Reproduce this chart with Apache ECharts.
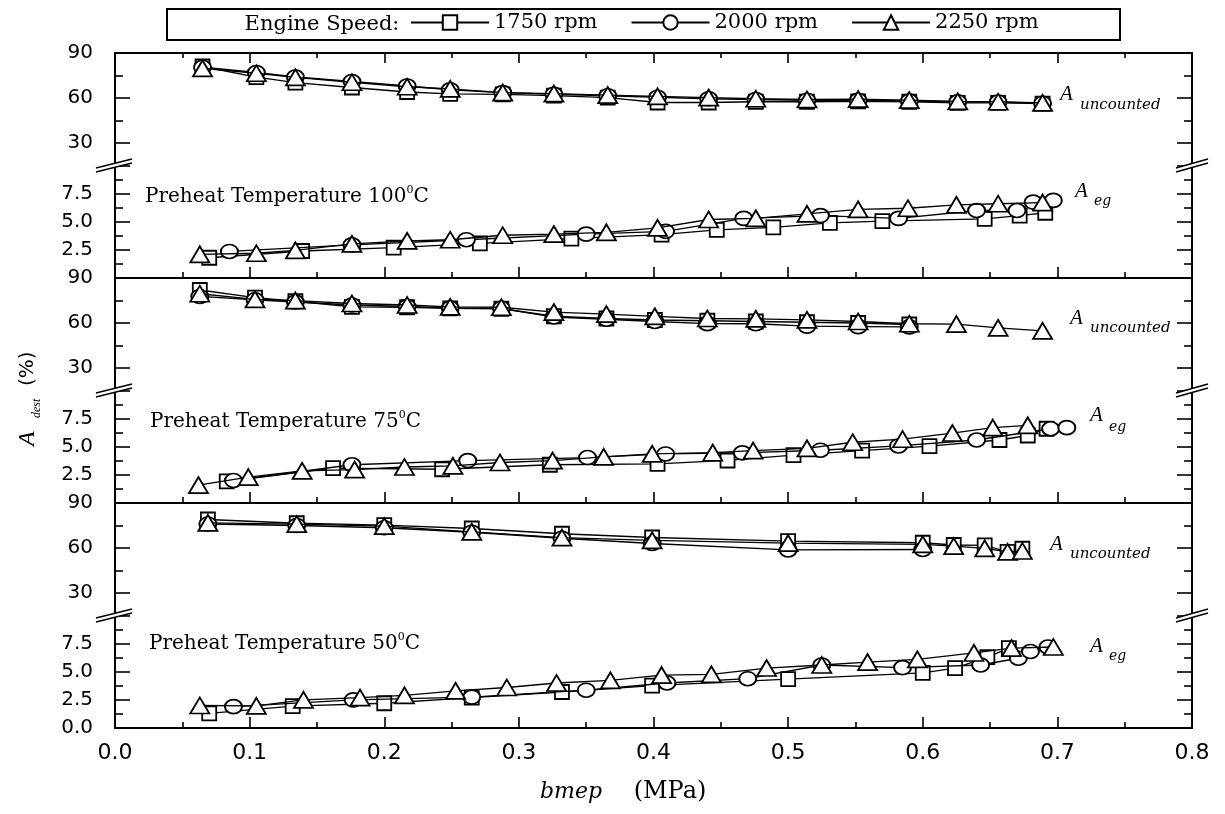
<!DOCTYPE html>
<html><head><meta charset="utf-8">
<script src="https://cdn.jsdelivr.net/npm/echarts@6/dist/echarts.min.js"></script>
<style>html,body{margin:0;padding:0;background:#fff}#c{width:1225px;height:814px}</style>
</head><body><div id="c"></div>
<script>
// ---------------- data ----------------
const speeds = ['1750 rpm', '2000 rpm', '2250 rpm'];
const preheatTemps = ['100', '75', '50'];
const upperTickLabels = [30, 60, 90];
const upperMinorTicks = [45, 75];

// Preheat 100 C
const unc100_1750 = [[0.065,81.0],[0.105,73.9],[0.134,70.3],[0.176,67.0],[0.217,64.0],[0.249,62.8],[0.288,62.4],[0.326,61.6],[0.366,60.2],[0.403,57.0],[0.441,57.0],[0.476,57.5],[0.514,57.5],[0.552,57.8],[0.590,57.5],[0.626,56.8],[0.656,56.8],[0.689,56.3]];
const unc100_2000 = [[0.065,80.5],[0.105,77.0],[0.134,74.0],[0.176,71.0],[0.217,68.0],[0.249,65.5],[0.288,63.6],[0.326,62.5],[0.366,61.5],[0.403,60.5],[0.441,59.5],[0.476,59.0],[0.514,58.5],[0.552,58.5],[0.590,58.0],[0.626,57.5],[0.656,57.3],[0.689,56.5]];
const unc100_2250 = [[0.065,79.7],[0.105,76.5],[0.134,73.7],[0.176,70.5],[0.217,67.5],[0.249,66.1],[0.288,63.6],[0.326,62.9],[0.366,61.9],[0.403,61.1],[0.441,60.2],[0.476,59.5],[0.514,59.0],[0.552,59.3],[0.590,58.6],[0.626,57.7],[0.656,57.5],[0.689,56.7]];
const eg100_1750 = [[0.070,1.8],[0.139,2.4],[0.207,2.7],[0.271,3.08],[0.339,3.5],[0.406,3.85],[0.447,4.27],[0.489,4.5],[0.531,4.9],[0.570,5.05],[0.646,5.26],[0.672,5.55],[0.691,5.8]];
const eg100_2000 = [[0.085,2.36],[0.176,2.95],[0.261,3.4],[0.350,3.9],[0.409,4.15],[0.467,5.3],[0.524,5.55],[0.582,5.3],[0.640,6.0],[0.670,6.0],[0.682,6.75],[0.697,6.9]];
const eg100_2250 = [[0.063,2.1],[0.105,2.2],[0.134,2.46],[0.176,3.03],[0.217,3.3],[0.249,3.4],[0.288,3.8],[0.326,3.9],[0.365,4.05],[0.403,4.46],[0.441,5.2],[0.476,5.3],[0.514,5.7],[0.552,6.1],[0.589,6.2],[0.625,6.5],[0.656,6.6],[0.689,6.7]];

// Preheat 75 C
const unc75_1750 = [[0.063,82.0],[0.104,76.9],[0.134,74.5],[0.176,70.7],[0.217,70.5],[0.249,69.8],[0.287,69.5],[0.326,64.5],[0.365,63.0],[0.401,62.0],[0.440,61.5],[0.476,61.0],[0.514,60.5],[0.552,60.0],[0.590,59.0]];
const unc75_2000 = [[0.063,77.7],[0.104,75.5],[0.134,74.0],[0.176,72.0],[0.217,71.0],[0.249,70.0],[0.287,69.8],[0.326,64.0],[0.365,62.5],[0.401,61.0],[0.440,59.6],[0.476,59.5],[0.514,57.9],[0.552,57.6],[0.590,57.4]];
const unc75_2250 = [[0.063,79.5],[0.104,75.8],[0.134,74.9],[0.176,73.0],[0.217,72.0],[0.249,70.8],[0.287,70.5],[0.326,67.3],[0.365,65.9],[0.401,64.4],[0.440,63.0],[0.476,62.7],[0.514,62.1],[0.552,61.0],[0.590,59.5],[0.625,59.3],[0.656,56.8],[0.689,54.7]];
const eg75_1750 = [[0.083,1.92],[0.162,3.1],[0.243,3.0],[0.323,3.4],[0.403,3.47],[0.455,3.78],[0.504,4.26],[0.555,4.66],[0.605,5.05],[0.657,5.6],[0.678,6.0],[0.692,6.6]];
const eg75_2000 = [[0.088,2.0],[0.176,3.4],[0.262,3.77],[0.351,4.04],[0.409,4.36],[0.466,4.46],[0.524,4.69],[0.582,5.07],[0.640,5.6],[0.695,6.6],[0.707,6.7]];
const eg75_2250 = [[0.062,1.59],[0.099,2.3],[0.139,2.85],[0.178,2.96],[0.215,3.2],[0.251,3.3],[0.286,3.6],[0.325,3.76],[0.363,4.1],[0.399,4.37],[0.444,4.47],[0.474,4.65],[0.514,4.85],[0.548,5.4],[0.585,5.67],[0.622,6.22],[0.652,6.7],[0.678,6.9]];

// Preheat 50 C
const unc50_1750 = [[0.069,79.0],[0.135,76.5],[0.200,75.3],[0.265,73.0],[0.332,69.5],[0.399,67.0],[0.500,64.6],[0.600,63.5],[0.623,62.0],[0.646,61.7],[0.663,57.4],[0.674,59.5]];
const unc50_2000 = [[0.069,76.0],[0.135,75.0],[0.200,73.5],[0.265,70.5],[0.332,66.5],[0.399,63.0],[0.500,58.7],[0.600,59.0]];
const unc50_2250 = [[0.069,76.7],[0.135,75.9],[0.200,74.6],[0.265,70.7],[0.332,66.9],[0.399,65.1],[0.500,63.2],[0.600,62.4],[0.623,61.2],[0.646,59.8],[0.663,57.4],[0.674,58.0]];
const eg50_1750 = [[0.070,1.3],[0.132,1.94],[0.200,2.2],[0.265,2.7],[0.332,3.2],[0.399,3.76],[0.500,4.35],[0.600,4.9],[0.624,5.33],[0.648,6.3],[0.664,7.1]];
const eg50_2000 = [[0.088,1.9],[0.177,2.5],[0.265,2.75],[0.350,3.36],[0.410,4.0],[0.470,4.38],[0.525,5.6],[0.585,5.37],[0.643,5.6],[0.671,6.2],[0.680,6.8],[0.693,7.2]];
const eg50_2250 = [[0.063,2.0],[0.105,1.96],[0.140,2.5],[0.182,2.7],[0.215,2.9],[0.253,3.3],[0.291,3.6],[0.328,4.0],[0.368,4.24],[0.406,4.7],[0.443,4.77],[0.484,5.33],[0.525,5.6],[0.559,5.86],[0.596,6.1],[0.638,6.67],[0.666,7.1],[0.697,7.2]];

const uncounted = [[unc100_1750, unc100_2000, unc100_2250],[unc75_1750, unc75_2000, unc75_2250],[unc50_1750, unc50_2000, unc50_2250]];
const exhaust = [[eg100_1750, eg100_2000, eg100_2250],[eg75_1750, eg75_2000, eg75_2250],[eg50_1750, eg50_2000, eg50_2250]];

// ---------------- layout ----------------
const T = [53, 278, 503];
const HALF = 112.5;
const LEFT = 115, RIGHT = 33;
const BLACK = '#000';
const SERIF = 'DejaVu Serif';
const SANS = 'DejaVu Sans';
const symbols = ['rect', 'path://M0,1A1,1,0,1,1,2,1A1,1,0,1,1,0,1Z', 'triangle'];
const symbolSizes = [14, [17, 14], [19, 16]];

const grid = [], xAxis = [], yAxis = [], series = [], graphic = [];
const axLine = {show: true, onZero: false, lineStyle: {color: BLACK, width: 2}};
const tickStyle = {color: BLACK, width: 1.6};

function yBase(gi, pos) {
  return {type: 'value', gridIndex: gi, position: pos, splitLine: {show: false},
    axisLine: axLine};
}

for (let p = 0; p < 3; p++) {
  const gu = grid.length;
  grid.push({left: LEFT, right: RIGHT, top: T[p], height: HALF});
  const gl = grid.length;
  grid.push({left: LEFT, right: RIGHT, top: T[p] + HALF, height: HALF});

  const xu = xAxis.length;
  xAxis.push({type: 'value', gridIndex: gu, position: 'top', min: 0, max: 0.8, interval: 0.1,
    axisLine: axLine, splitLine: {show: false},
    axisTick: {show: p === 0, inside: true, length: 10, lineStyle: tickStyle},
    minorTick: {show: p === 0, splitNumber: 2, length: 5, lineStyle: tickStyle},
    axisLabel: {show: false}});
  const xl = xAxis.length;
  xAxis.push({type: 'value', gridIndex: gl, position: 'bottom', min: 0, max: 0.8, interval: 0.1,
    axisLine: axLine, splitLine: {show: false},
    axisTick: {show: true, inside: true, length: 11, lineStyle: tickStyle},
    minorTick: {show: true, splitNumber: 2, length: 6, lineStyle: tickStyle},
    axisLabel: {show: p === 2, margin: 14, fontSize: 22, fontFamily: SANS, color: BLACK,
      formatter: v => v.toFixed(1)}});

  // upper (A_uncounted) axes
  const yu = yAxis.length;
  yAxis.push(Object.assign(yBase(gu, 'left'), {min: 15, max: 90,
    axisTick: {inside: true, length: 8, customValues: upperMinorTicks, lineStyle: tickStyle},
    axisLabel: {customValues: upperTickLabels, margin: 22, fontSize: 20, fontFamily: SANS, color: BLACK}}));
  yAxis.push(Object.assign(yBase(gu, 'left'), {min: 15, max: 90, axisLine: {show: false, onZero: false},
    axisTick: {inside: true, length: 15, customValues: upperTickLabels, lineStyle: tickStyle},
    axisLabel: {show: false}}));
  yAxis.push(Object.assign(yBase(gu, 'right'), {min: 15, max: 90,
    axisTick: {inside: true, length: 8, customValues: upperMinorTicks, lineStyle: tickStyle},
    axisLabel: {show: false}}));
  yAxis.push(Object.assign(yBase(gu, 'right'), {min: 15, max: 90, axisLine: {show: false, onZero: false},
    axisTick: {inside: true, length: 15, customValues: upperTickLabels, lineStyle: tickStyle},
    axisLabel: {show: false}}));

  // lower (A_eg) axes
  const yl = yAxis.length;
  yAxis.push(Object.assign(yBase(gl, 'left'), {min: 0, max: 10, interval: 2.5,
    axisTick: {inside: true, length: 15, lineStyle: tickStyle},
    minorTick: {show: true, splitNumber: 2, length: 8, lineStyle: tickStyle},
    axisLabel: {margin: 22, fontSize: 20, fontFamily: SANS, color: BLACK,
      formatter: v => (v >= 10 ? '' : (v === 0 ? (p === 2 ? '0.0' : '') : v.toFixed(1)))}}));
  yAxis.push(Object.assign(yBase(gl, 'right'), {min: 0, max: 10, interval: 2.5,
    axisTick: {inside: true, length: 15, lineStyle: tickStyle},
    minorTick: {show: true, splitNumber: 2, length: 8, lineStyle: tickStyle},
    axisLabel: {show: false}}));

  for (let s = 0; s < 3; s++) {
    const common = {type: 'line', name: speeds[s], symbol: symbols[s], symbolSize: symbolSizes[s],
      showSymbol: true, z: 3 + s, silent: true, emphasis: {disabled: true},
      itemStyle: {color: '#fff', borderColor: BLACK, borderWidth: 1.8},
      lineStyle: {color: BLACK, width: 1.3}};
    series.push(Object.assign({}, common, {xAxisIndex: xu, yAxisIndex: yu, data: uncounted[p][s]}));
    series.push(Object.assign({}, common, {xAxisIndex: xl, yAxisIndex: yl, data: exhaust[p][s]}));
  }

  // axis break marks
  const yb = T[p] + HALF;
  [[96, 132], [1176, 1208]].forEach(([a, b]) => {
    graphic.push({type: 'polygon', z: 100, silent: true,
      shape: {points: [[a, yb + 2.5], [b, yb - 6.5], [b, yb - 2.5], [a, yb + 6.5]]},
      style: {fill: '#fff', stroke: null}});
    graphic.push({type: 'line', z: 101, silent: true,
      shape: {x1: a, y1: yb + 2.5, x2: b, y2: yb - 6.5}, style: {stroke: BLACK, lineWidth: 1.6}});
    graphic.push({type: 'line', z: 101, silent: true,
      shape: {x1: a, y1: yb + 6.5, x2: b, y2: yb - 2.5}, style: {stroke: BLACK, lineWidth: 1.6}});
  });
}

// panel annotations
const preheatX = [145, 150, 149];
const preheatDy = [144, 144, 141];
const uncX = [1060, 1070, 1050];
const uncAy = [41.8, 40.3, 41.7];
const uncSy = [52.4, 50.6, 51.0];
const egX = [1075, 1090, 1090];
const egAy = [138.6, 137.0, 143.6];
const egSy = [148.3, 149.0, 153.7];

function txt(x, y, text, size, family, styleExtra, align) {
  return {type: 'text', x: x, y: y, z: 110, silent: true,
    style: Object.assign({text: text, fontSize: size, fontFamily: family, fill: BLACK,
      align: align || 'left', textAlign: align || 'left',
      verticalAlign: 'middle', textVerticalAlign: 'middle'}, styleExtra || {})};
}

for (let p = 0; p < 3; p++) {
  graphic.push({type: 'text', x: preheatX[p], y: T[p] + preheatDy[p], z: 110, silent: true,
    style: {text: '{a|Preheat Temperature ' + preheatTemps[p] + '}{s|0}{a|C}',
      align: 'left', textAlign: 'left', verticalAlign: 'middle', textVerticalAlign: 'middle',
      rich: {a: {fontSize: 20, fontFamily: SERIF, fill: BLACK, lineHeight: 24},
             s: {fontSize: 11, fontFamily: SERIF, fill: BLACK, verticalAlign: 'top', lineHeight: 14}}}});
  graphic.push(txt(uncX[p], T[p] + uncAy[p], 'A', 21, 'Liberation Serif', {fontStyle: 'italic'}));
  graphic.push(txt(uncX[p] + 20, T[p] + uncSy[p], 'uncounted', 15, SERIF, {fontStyle: 'italic'}));
  graphic.push(txt(egX[p], T[p] + egAy[p], 'A', 21, 'Liberation Serif', {fontStyle: 'italic'}));
  graphic.push(txt(egX[p] + 19, T[p] + egSy[p], 'eg', 14, SERIF, {fontStyle: 'italic'}));
}

// legend box + prefix
graphic.push({type: 'rect', z: 90, silent: true, shape: {x: 167, y: 9, width: 953, height: 31},
  style: {fill: 'none', stroke: BLACK, lineWidth: 2}});
graphic.push(txt(322, 24.5, 'Engine Speed:', 21, SERIF, null, 'center'));

// y axis title (rotated)
function rtxt(x, y, text, size, family, extra) {
  return {type: 'text', x: x, y: y, rotation: Math.PI / 2, z: 110, silent: true,
    style: Object.assign({text: text, fontSize: size, fontFamily: family, fill: BLACK,
      align: 'left', textAlign: 'left', verticalAlign: 'middle', textVerticalAlign: 'middle'}, extra || {})};
}
graphic.push(rtxt(28, 446, 'A', 24, 'Liberation Serif', {fontStyle: 'italic'}));
graphic.push(rtxt(37, 418, 'dest', 12, 'Liberation Serif', {fontStyle: 'italic'}));
graphic.push(rtxt(28, 386, '(%)', 20, SANS));

// x axis title
graphic.push(txt(571, 792, 'bmep', 22, SERIF, {fontStyle: 'italic'}, 'center'));
graphic.push(txt(670, 792, '(MPa)', 24, SERIF, null, 'center'));

const option = {
  animation: false,
  backgroundColor: '#fff',
  textStyle: {fontFamily: SANS, color: BLACK},
  legend: {left: 410, top: 12, itemWidth: 78, itemHeight: 18, itemGap: 33, selectedMode: false,
    data: speeds, padding: 0,
    textStyle: {fontFamily: SERIF, fontSize: 21, color: BLACK, width: 104}},
  grid: grid, xAxis: xAxis, yAxis: yAxis, series: series, graphic: graphic
};
const chart = echarts.init(document.getElementById('c'), null, {renderer: 'canvas'});
chart.setOption(option);
</script>
</body></html>
